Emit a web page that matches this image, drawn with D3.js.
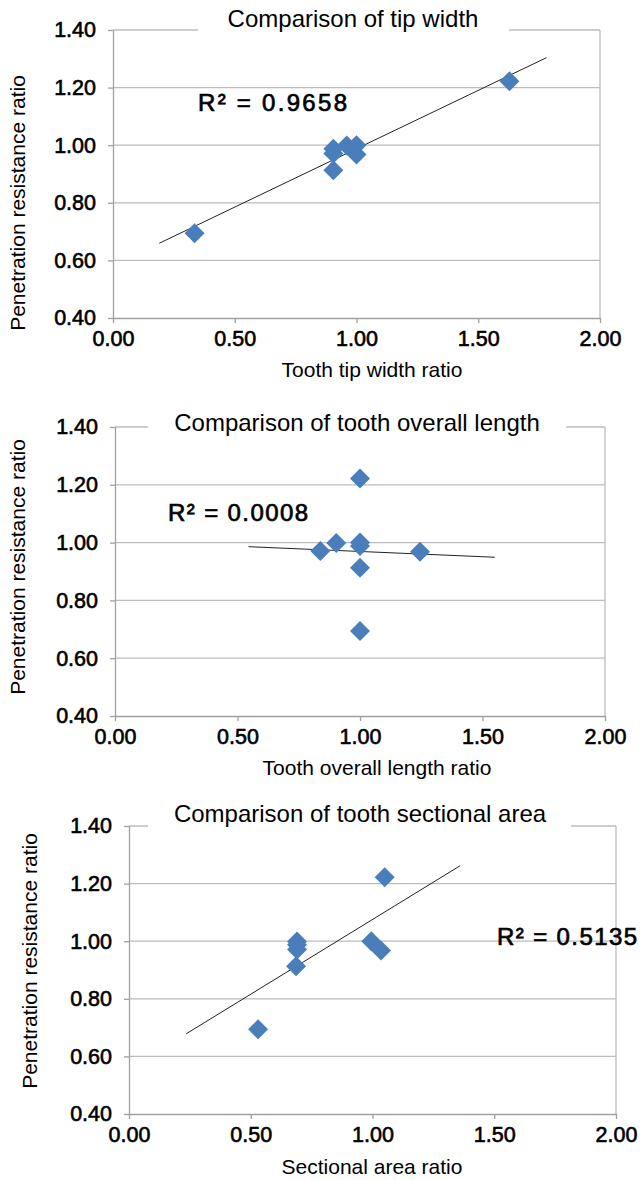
<!DOCTYPE html>
<html>
<head>
<meta charset="utf-8">
<script src="https://cdn.jsdelivr.net/npm/d3@7"></script>
<style>
  body { margin: 0; background: #fff; }
  text { font-family: "Liberation Sans", Arial, sans-serif; fill: #000; }
</style>
</head>
<body>
<svg id="chart" width="641" height="1180"></svg>
<script>
// penetration resistance ratio of the 8 teeth (same order in every chart)
const resistance = [1.222, 0.694, 0.913, 0.968, 0.971, 0.999, 1.000, 0.988];
// x values per chart
const tipWidth = [1.628, 0.335, 0.905, 1.000, 0.905, 0.960, 1.000, 0.905];
const overallLength = [1.000, 1.000, 1.000, 1.245, 0.838, 0.903, 1.000, 1.000];
const sectionalArea = [1.050, 0.530, 0.686, 1.035, 0.690, 0.690, 0.995, 0.690];

const titles = ["Comparison of tip width", "Comparison of tooth overall length", "Comparison of tooth sectional area"];
const xTitles = ["Tooth tip width ratio", "Tooth overall length ratio", "Sectional area ratio"];
const yTitle = "Penetration resistance ratio";
const r2Labels = ["R² = 0.9658", "R² = 0.0008", "R² = 0.5135"];
// trendline extent (with forecast) per chart
const trendFrom = [0.19, 0.545, 0.235];
const trendTo = [1.78, 1.55, 1.36];

const xTicks = [0, 0.5, 1, 1.5, 2];
const yTicks = [0.4, 0.6, 0.8, 1.0, 1.2, 1.4];

const seriesX = [tipWidth, overallLength, sectionalArea];

// layout of each panel (pixels)
const panels = [
  { left: 113, right: 600, top: 30, bottom: 318, titleX: 353, titleY: 18, boxL: 198, boxR: 509,
    yTitleX: 17, yTitleY: 203, xTitleX: 372, xTitleY: 369, r2X: 198, r2Y: 102, r2W: 149 },
  { left: 115, right: 605, top: 427, bottom: 716, titleX: 357, titleY: 422, boxL: 148, boxR: 566,
    yTitleX: 17, yTitleY: 567, xTitleX: 377, xTitleY: 767, r2X: 168, r2Y: 512, r2W: 140 },
  { left: 129, right: 616, top: 826, bottom: 1114, titleX: 360, titleY: 813, boxL: 148, boxR: 571,
    yTitleX: 29, yTitleY: 961, xTitleX: 372, xTitleY: 1166, r2X: 497, r2Y: 936, r2W: 140 }
];

const svg = d3.select("#chart");
const fmt = d3.format(".2f");
const gridColor = "#bcbcbc";
const axisColor = "#a0a0a0";
const markColor = "#4a7ebb";

function linReg(xs, ys) {
  const mx = d3.mean(xs), my = d3.mean(ys);
  let sxy = 0, sxx = 0;
  xs.forEach(function(x, i) {
    sxy += (x - mx) * (ys[i] - my);
    sxx += (x - mx) * (x - mx);
  });
  const b = sxy / sxx;
  return { b: b, a: my - b * mx };
}

panels.forEach(function(p, k) {
  const xs = seriesX[k];
  const x = d3.scaleLinear().domain([0, 2]).range([p.left, p.right]);
  const y = d3.scaleLinear().domain([0.4, 1.4]).range([p.bottom, p.top]);
  const g = svg.append("g");

  // gridlines
  g.selectAll(".grid").data(yTicks.slice(1)).enter().append("line")
    .attr("x1", p.left).attr("x2", p.right)
    .attr("y1", function(d) { return y(d); }).attr("y2", function(d) { return y(d); })
    .attr("stroke", gridColor).attr("stroke-width", 1.3);

  // right border
  g.append("line").attr("x1", p.right).attr("x2", p.right)
    .attr("y1", p.top).attr("y2", p.bottom)
    .attr("stroke", gridColor).attr("stroke-width", 1.3);

  // axes
  const ya = g.append("g").attr("transform", "translate(" + p.left + ",0)")
    .call(d3.axisLeft(y).tickValues(yTicks).tickFormat(fmt).tickSize(5).tickSizeOuter(0).tickPadding(12));
  const xa = g.append("g").attr("transform", "translate(0," + p.bottom + ")")
    .call(d3.axisBottom(x).tickValues(xTicks).tickFormat(fmt).tickSize(5).tickSizeOuter(0).tickPadding(8));
  [ya, xa].forEach(function(a) {
    a.select(".domain").attr("stroke", axisColor).attr("stroke-width", 1.3);
    a.selectAll(".tick line").attr("stroke", axisColor).attr("stroke-width", 1.3);
    a.selectAll(".tick text").attr("font-size", 21.5)
      .attr("font-family", "Liberation Sans, Arial, sans-serif")
      .attr("stroke", "#000").attr("stroke-width", 0.6).attr("fill", "#000");
  });

  // title with white box over the top gridline
  g.append("rect").attr("x", p.boxL).attr("y", p.top - 14)
    .attr("width", p.boxR - p.boxL).attr("height", 28).attr("fill", "#fff");
  g.append("text").attr("x", p.titleX).attr("y", p.titleY)
    .attr("text-anchor", "middle").attr("dominant-baseline", "central")
    .attr("font-size", 24).text(titles[k]);

  // axis titles
  g.append("text").attr("x", p.xTitleX).attr("y", p.xTitleY)
    .attr("text-anchor", "middle").attr("dominant-baseline", "central")
    .attr("font-size", 21).text(xTitles[k]);
  g.append("text")
    .attr("transform", "translate(" + p.yTitleX + "," + p.yTitleY + ") rotate(-90)")
    .attr("text-anchor", "middle").attr("dominant-baseline", "central")
    .attr("font-size", 21).text(yTitle);

  // trendline
  const fit = linReg(xs, resistance);
  g.append("line")
    .attr("x1", x(trendFrom[k])).attr("y1", y(fit.a + fit.b * trendFrom[k]))
    .attr("x2", x(trendTo[k])).attr("y2", y(fit.a + fit.b * trendTo[k]))
    .attr("stroke", "#222").attr("stroke-width", 1);

  // markers
  const diamond = d3.symbol().type(d3.symbolSquare).size(200);
  g.selectAll(".pt").data(resistance).enter().append("path")
    .attr("d", diamond)
    .attr("transform", function(d, i) { return "translate(" + x(xs[i]) + "," + y(d) + ") rotate(45)"; })
    .attr("fill", markColor);

  // R² label
  g.append("text").attr("x", p.r2X).attr("y", p.r2Y)
    .attr("dominant-baseline", "central")
    .attr("font-size", 24).attr("textLength", p.r2W).attr("lengthAdjust", "spacing")
    .attr("stroke", "#000").attr("stroke-width", 0.7)
    .text(r2Labels[k]);
});
</script>
</body>
</html>
